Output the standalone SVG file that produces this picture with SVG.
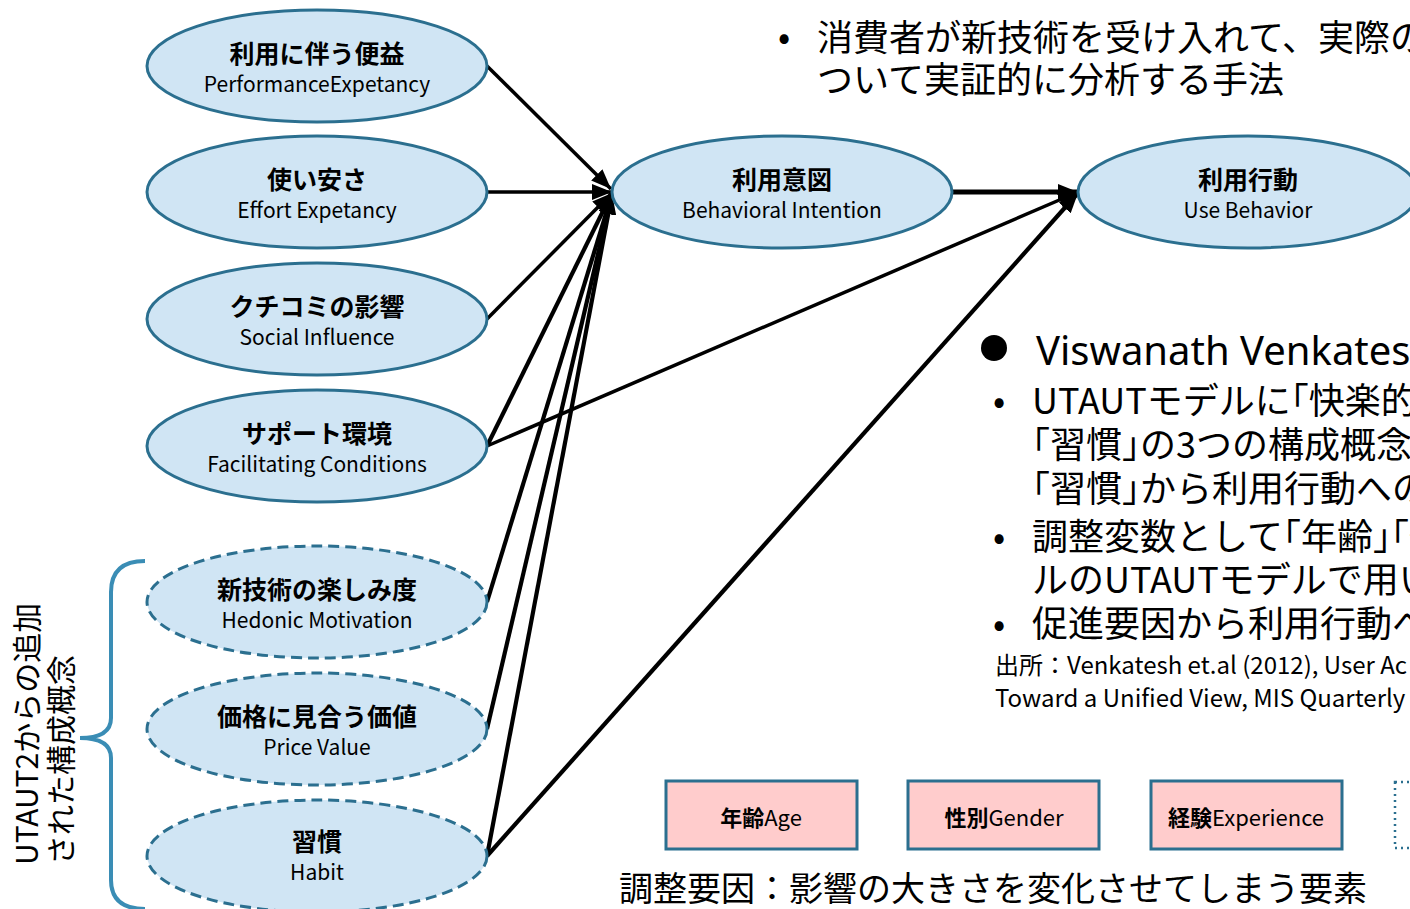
<svg xmlns="http://www.w3.org/2000/svg" width="1410" height="909" viewBox="0 0 1410 909">
<defs>
<marker id="ah" markerUnits="userSpaceOnUse" markerWidth="20" markerHeight="16" refX="20" refY="8" orient="auto">
<path d="M0,0 L20,8 L0,16 z" fill="#000"/>
</marker>
<style>
.el{fill:#d0e5f4;stroke:#2b6f8f;stroke-width:3}
.dash{stroke-dasharray:11 6}
.jt{font-family:"Noto Sans CJK JP","Noto Sans",sans-serif;font-weight:bold;font-size:25px;fill:#000;text-anchor:middle}
.en{font-family:"Noto Sans CJK JP","Noto Sans",sans-serif;font-size:21px;fill:#000;text-anchor:middle}
.cn{stroke:#000;stroke-width:3.5;fill:none;marker-end:url(#ah)}
.cn2{stroke-width:4.2}
.box{fill:#ffcccc;stroke:#2b6f8f;stroke-width:3}
.bt{font-family:"Noto Sans CJK JP",sans-serif;font-size:22px;fill:#000;text-anchor:middle}
.body{font-family:"Noto Sans CJK JP","Noto Sans",sans-serif;font-size:33px;fill:#000}
.rt{font-family:"Noto Sans CJK JP","Noto Sans",sans-serif;font-size:36px;fill:#000;font-feature-settings:"halt"}
.top{font-family:"Noto Sans CJK JP","Noto Sans",sans-serif;font-size:36px;fill:#000}
.src{font-family:"Noto Sans CJK JP","Noto Sans",sans-serif;font-size:24px;fill:#000}
</style>
</defs>
<rect width="1410" height="909" fill="#fff"/>

<g id="connectors">
<line class="cn" x1="487" y1="66" x2="611" y2="189"/>
<line class="cn" x1="487" y1="192" x2="612" y2="192"/>
<line class="cn" x1="487" y1="319" x2="612" y2="193"/>
<line class="cn cn2" x1="487" y1="446" x2="612" y2="193"/>
<line class="cn" x1="487" y1="446" x2="1078" y2="192"/>
<line class="cn cn2" x1="487" y1="602" x2="612" y2="194"/>
<line class="cn cn2" x1="487" y1="729" x2="612" y2="194"/>
<line class="cn cn2" x1="487" y1="856" x2="612" y2="194"/>
<line class="cn cn2" x1="487" y1="856" x2="1078" y2="193"/>
<line class="cn" x1="952" y1="192" x2="1078" y2="192" style="stroke-width:5"/>
</g>

<g id="pe"><ellipse class="el" cx="317" cy="66" rx="170" ry="56"/>
<text class="jt" x="317" y="63">利用に伴う便益</text><text class="en" x="317" y="92">PerformanceExpetancy</text></g>
<g id="ee"><ellipse class="el" cx="317" cy="192" rx="170" ry="56"/>
<text class="jt" x="317" y="189">使い安さ</text><text class="en" x="317" y="218">Effort Expetancy</text></g>
<g id="si"><ellipse class="el" cx="317" cy="319" rx="170" ry="56"/>
<text class="jt" x="317" y="316">クチコミの影響</text><text class="en" x="317" y="345">Social Influence</text></g>
<g id="fc"><ellipse class="el" cx="317" cy="446" rx="170" ry="56"/>
<text class="jt" x="317" y="443">サポート環境</text><text class="en" x="317" y="472">Facilitating Conditions</text></g>
<g id="hm"><ellipse class="el dash" cx="317" cy="602" rx="170" ry="56"/>
<text class="jt" x="317" y="599">新技術の楽しみ度</text><text class="en" x="317" y="628">Hedonic Motivation</text></g>
<g id="pv"><ellipse class="el dash" cx="317" cy="729" rx="170" ry="56"/>
<text class="jt" x="317" y="726">価格に見合う価値</text><text class="en" x="317" y="755">Price Value</text></g>
<g id="hb"><ellipse class="el dash" cx="317" cy="856" rx="170" ry="56"/>
<text class="jt" x="317" y="851">習慣</text><text class="en" x="317" y="880">Habit</text></g>

<g id="bi"><ellipse class="el" cx="782" cy="192" rx="170" ry="56"/>
<text class="jt" x="782" y="189">利用意図</text><text class="en" x="782" y="218">Behavioral Intention</text></g>
<g id="ub"><ellipse class="el" cx="1248" cy="192" rx="170" ry="56"/>
<text class="jt" x="1248" y="189">利用行動</text><text class="en" x="1248" y="218">Use Behavior</text></g>

<g id="age"><rect class="box" x="666" y="781" width="191" height="68"/>
<text class="bt" x="761" y="826"><tspan font-weight="bold">年齢</tspan>Age</text></g>
<g id="gender"><rect class="box" x="908" y="781" width="191" height="68"/>
<text class="bt" x="1004" y="826"><tspan font-weight="bold">性別</tspan>Gender</text></g>
<g id="exp"><rect class="box" x="1151" y="781" width="191" height="68"/>
<text class="bt" x="1246" y="826"><tspan font-weight="bold">経験</tspan>Experience</text></g>
<g id="vol"><rect x="1395" y="782" width="40" height="66" fill="none" stroke="#2b6f8f" stroke-width="2.5" stroke-dasharray="2 4"/></g>

<text class="body" x="619" y="901" style="font-size:34px">調整要因：影響の大きさを変化させてしまう要素</text>

<g id="brace">
<path d="M145,561 Q111,561 111,592 L111,718 Q111,738 80,738 Q111,738 111,758 L111,880 Q111,909 145,909" fill="none" stroke="#3a8db5" stroke-width="4"/>
<text class="body" transform="translate(38,865) rotate(-90)" style="font-size:30px">UTAUT2からの追加</text>
<text class="body" transform="translate(72,865) rotate(-90)" style="font-size:30px">された構成概念</text>
</g>

<g id="toptext">
<text class="top" x="778" y="50">•</text>
<text class="top" x="817" y="51">消費者が新技術を受け入れて、実際の</text>
<text class="top" x="817" y="93">ついて実証的に分析する手法</text>
</g>

<g id="righttext">
<circle cx="994" cy="348" r="13" fill="#000"/>
<text x="1036" y="365" style="font-family:'Noto Sans','Liberation Sans',sans-serif;font-size:40px;fill:#000">Viswanath Venkatesh</text>
<text class="rt" x="993" y="414">•</text>
<text class="rt" x="1032" y="414">UTAUTモデルに「快楽的動</text>
<text class="rt" x="1032" y="458">「習慣」の3つの構成概念</text>
<text class="rt" x="1032" y="502">「習慣」から利用行動への</text>
<text class="rt" x="993" y="550">•</text>
<text class="rt" x="1032" y="550">調整変数として「年齢」「性</text>
<text class="rt" x="1032" y="593">ルのUTAUTモデルで用い</text>
<text class="rt" x="993" y="637">•</text>
<text class="rt" x="1032" y="637">促進要因から利用行動へ</text>
<text class="src" x="995" y="674">出所：Venkatesh et.al (2012), User Ac</text>
<text class="src" x="995" y="707">Toward a Unified View, MIS Quarterly</text>
</g>
</svg>
